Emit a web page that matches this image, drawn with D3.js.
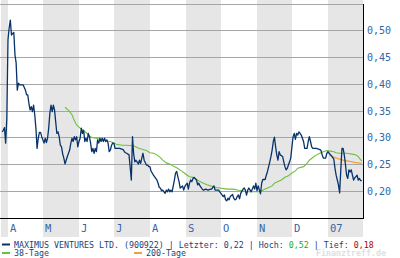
<!DOCTYPE html>
<html><head><meta charset="utf-8">
<script src="https://cdn.jsdelivr.net/npm/d3@7"></script>
<style>html,body{margin:0;padding:0;background:#fff;overflow:hidden}svg{display:block}</style>
</head><body>
<script>
// ---- data ----
const price = [
["2006-03-27",.311],["2006-03-28",.314],["2006-03-29",.319],["2006-03-30",.290],["2006-03-31",.336],
["2006-04-01",.483],["2006-04-02",.505],["2006-04-03",.520],["2006-04-04",.492],["2006-04-05",.495],["2006-04-06",.497],["2006-04-07",.455],["2006-04-08",.440],["2006-04-09",.389],["2006-04-10",.402],["2006-04-11",.399],["2006-04-14",.399],["2006-04-16",.389],["2006-04-17",.380],["2006-04-18",.380],["2006-04-19",.364],["2006-04-20",.352],["2006-04-21",.358],["2006-04-22",.349],["2006-04-23",.361],["2006-04-24",.343],["2006-04-25",.318],["2006-04-26",.280],["2006-04-27",.299],["2006-04-28",.310],["2006-04-29",.310],["2006-04-30",.302],
["2006-05-02",.290],["2006-05-03",.299],["2006-05-04",.291],["2006-05-05",.299],["2006-05-06",.318],["2006-05-07",.346],["2006-05-08",.361],["2006-05-09",.349],["2006-05-10",.361],["2006-05-11",.352],["2006-05-12",.330],["2006-05-13",.308],["2006-05-14",.311],["2006-05-15",.302],["2006-05-16",.286],["2006-05-17",.283],["2006-05-18",.270],["2006-05-19",.262],["2006-05-20",.251],["2006-05-21",.258],["2006-05-22",.265],["2006-05-24",.277],["2006-05-25",.290],["2006-05-26",.299],["2006-05-27",.293],["2006-05-28",.302],["2006-05-29",.296],["2006-05-30",.302],["2006-05-31",.283],
["2006-06-01",.293],["2006-06-02",.299],["2006-06-03",.318],["2006-06-04",.308],["2006-06-05",.314],["2006-06-06",.293],["2006-06-07",.299],["2006-06-08",.293],["2006-06-09",.308],["2006-06-10",.302],["2006-06-11",.290],["2006-06-12",.274],["2006-06-13",.280],["2006-06-14",.271],["2006-06-15",.280],["2006-06-16",.274],["2006-06-17",.296],["2006-06-18",.290],["2006-06-19",.299],["2006-06-20",.293],["2006-06-21",.299],["2006-06-22",.293],["2006-06-23",.299],["2006-06-24",.293],["2006-06-25",.296],["2006-06-26",.290],["2006-06-27",.274],["2006-06-28",.277],["2006-06-29",.286],["2006-06-30",.290],
["2006-07-01",.290],["2006-07-02",.280],["2006-07-03",.280],["2006-07-06",.280],["2006-07-09",.278],["2006-07-10",.274],["2006-07-11",.272],["2006-07-12",.271],["2006-07-14",.268],["2006-07-15",.245],["2006-07-16",.221],["2006-07-17",.302],["2006-07-18",.270],["2006-07-19",.255],["2006-07-20",.258],["2006-07-22",.251],["2006-07-23",.258],["2006-07-24",.252],["2006-07-25",.262],["2006-07-26",.271],["2006-07-27",.258],["2006-07-29",.249],["2006-07-30",.249],["2006-07-31",.246],
["2006-08-01",.246],["2006-08-02",.237],["2006-08-03",.234],["2006-08-04",.230],["2006-08-06",.224],["2006-08-07",.221],["2006-08-08",.215],["2006-08-09",.207],["2006-08-10",.206],["2006-08-11",.201],["2006-08-12",.202],["2006-08-14",.196],["2006-08-15",.202],["2006-08-16",.199],["2006-08-17",.204],["2006-08-18",.199],["2006-08-19",.202],["2006-08-20",.199],["2006-08-22",.221],["2006-08-23",.234],["2006-08-24",.237],["2006-08-25",.227],["2006-08-26",.218],["2006-08-27",.206],["2006-08-28",.208],["2006-08-29",.210],["2006-08-30",.202],["2006-08-31",.209],
["2006-09-02",.215],["2006-09-03",.204],["2006-09-04",.215],["2006-09-05",.221],["2006-09-06",.218],["2006-09-07",.224],["2006-09-08",.226],["2006-09-10",.221],["2006-09-11",.212],["2006-09-12",.215],["2006-09-13",.210],["2006-09-15",.204],["2006-09-16",.202],["2006-09-18",.204],["2006-09-20",.202],["2006-09-22",.204],["2006-09-23",.204],["2006-09-25",.210],["2006-09-26",.202],["2006-09-27",.202],["2006-09-29",.202],["2006-09-30",.199],
["2006-10-01",.196],["2006-10-03",.190],["2006-10-04",.193],["2006-10-05",.184],["2006-10-06",.182],["2006-10-07",.187],["2006-10-08",.184],["2006-10-09",.190],["2006-10-11",.194],["2006-10-12",.187],["2006-10-13",.184],["2006-10-14",.185],["2006-10-15",.190],["2006-10-16",.193],["2006-10-17",.186],["2006-10-18",.196],["2006-10-20",.204],["2006-10-21",.206],["2006-10-22",.202],["2006-10-23",.193],["2006-10-24",.202],["2006-10-25",.206],["2006-10-27",.199],["2006-10-28",.204],["2006-10-29",.210],["2006-10-30",.204],["2006-10-31",.215],
["2006-11-01",.201],["2006-11-02",.210],["2006-11-04",.195],["2006-11-05",.215],["2006-11-06",.222],["2006-11-08",.222],["2006-11-09",.230],["2006-11-10",.237],["2006-11-11",.246],["2006-11-12",.255],["2006-11-13",.265],["2006-11-14",.277],["2006-11-15",.293],["2006-11-16",.301],["2006-11-17",.283],["2006-11-18",.268],["2006-11-19",.258],["2006-11-20",.274],["2006-11-21",.268],["2006-11-23",.265],["2006-11-24",.255],["2006-11-25",.246],["2006-11-26",.240],["2006-11-27",.243],["2006-11-28",.249],["2006-11-29",.255],["2006-11-30",.262],
["2006-12-01",.283],["2006-12-02",.302],["2006-12-03",.308],["2006-12-04",.297],["2006-12-05",.308],["2006-12-06",.305],["2006-12-07",.311],["2006-12-08",.308],["2006-12-09",.305],["2006-12-10",.299],["2006-12-11",.293],["2006-12-12",.280],["2006-12-14",.280],["2006-12-15",.293],["2006-12-16",.302],["2006-12-17",.293],["2006-12-18",.283],["2006-12-19",.280],["2006-12-22",.280],["2006-12-25",.278],["2006-12-26",.276],["2006-12-27",.268],["2006-12-28",.262],["2006-12-30",.262],["2006-12-31",.271],
["2007-01-01",.274],["2007-01-02",.271],["2007-01-04",.266],["2007-01-06",.260],["2007-01-07",.243],["2007-01-08",.230],["2007-01-09",.221],["2007-01-10",.212],["2007-01-11",.197],["2007-01-12",.240],["2007-01-13",.280],["2007-01-14",.280],["2007-01-15",.268],["2007-01-16",.250],["2007-01-17",.230],["2007-01-18",.224],["2007-01-19",.240],["2007-01-20",.236],["2007-01-21",.240],["2007-01-22",.230],["2007-01-23",.221],["2007-01-24",.225],["2007-01-26",.230],["2007-01-27",.221],["2007-01-28",.224],["2007-01-29",.220],["2007-01-30",.220]
];
const ma38 = [
["2006-05-20",.357],["2006-05-23",.351],["2006-05-26",.343],["2006-05-28",.332],["2006-05-30",.324],["2006-06-02",.318],["2006-06-05",.313],["2006-06-08",.308],["2006-06-10",.303],["2006-06-13",.300],["2006-06-16",.299],["2006-06-19",.297],["2006-06-22",.296],["2006-06-25",.294],["2006-06-28",.293],["2006-06-30",.291],["2006-07-03",.288],["2006-07-08",.286],["2006-07-12",.286],["2006-07-18",.285],["2006-07-21",.282],["2006-07-23",.280],["2006-07-26",.278],["2006-07-29",.276],["2006-08-01",.272],["2006-08-04",.271],["2006-08-07",.268],["2006-08-10",.263],["2006-08-12",.258],["2006-08-15",.253],["2006-08-18",.251],["2006-08-21",.247],["2006-08-24",.244],["2006-08-28",.238],["2006-08-30",.235],["2006-09-02",.230],["2006-09-04",.227],["2006-09-07",.226],["2006-09-10",.222],["2006-09-13",.218],["2006-09-16",.215],["2006-09-19",.212],["2006-09-22",.210],["2006-09-24",.209],["2006-09-27",.207],["2006-09-30",.206],["2006-10-06",.204],["2006-10-12",.204],["2006-10-16",.202],["2006-10-19",.201],["2006-10-23",.199],["2006-10-29",.199],["2006-11-02",.199],["2006-11-05",.201],["2006-11-08",.204],["2006-11-11",.207],["2006-11-14",.210],["2006-11-16",.215],["2006-11-19",.218],["2006-11-22",.221],["2006-11-25",.226],["2006-11-28",.229],["2006-12-01",.234],["2006-12-04",.238],["2006-12-06",.243],["2006-12-11",.246],["2006-12-14",.252],["2006-12-16",.258],["2006-12-19",.263],["2006-12-22",.268],["2006-12-25",.271],["2006-12-28",.274],["2006-12-31",.276],["2007-01-03",.275],["2007-01-06",.274],["2007-01-08",.272],["2007-01-11",.271],["2007-01-17",.271],["2007-01-23",.269],["2007-01-26",.267],["2007-01-28",.262],["2007-01-30",.256]
];
const ma200 = [
["2007-01-02",.268],["2007-01-07",.263],["2007-01-11",.260],["2007-01-16",.257],["2007-01-20",.256],["2007-01-24",.254],["2007-01-30",.252]
];
const gridValues = [0.20,0.25,0.30,0.35,0.40,0.45,0.50,0.55];
const tickLabels = ["0,20","0,25","0,30","0,35","0,40","0,45","0,50"];
const monthLabels = ["A","M","J","J","A","S","O","N","D","07"];
const legendParts = [
  ["MAXIMUS VENTURES LTD. (900922) | Letzter: 0,22 | Hoch: ","#1b3f7a"],
  ["0,52","#12b021"],
  [" | Tief: ","#1b3f7a"],
  ["0,18","#b00000"]
];
const seriesNames = ["38-Tage","200-Tage"];

// ---- layout ----
const W = 400, H = 258;
const plotLeft = 0, plotRight = 363, plotTop = 4, plotBottom = 218;
const parse = d3.timeParse("%Y-%m-%d");
const x = d3.scaleTime().domain([parse("2006-03-26"), parse("2007-01-31")]).range([1, 362.9]);
const y = d3.scaleLinear().domain([0.15, 0.55]).range([plotBottom, plotTop]);
const crisp = v => Math.floor(v) + 0.5;

const svg = d3.select("body").append("svg").attr("width", W).attr("height", H);

// month bands (alternating, March shaded)
const months = d3.timeMonth.range(parse("2006-03-01"), parse("2007-02-01"));
svg.append("g").selectAll("rect").data(months.filter((m,i)=>i%2===0)).join("rect")
  .attr("x", d => Math.max(1, Math.round(x(d))))
  .attr("width", d => Math.min(plotRight, Math.round(x(d3.timeMonth.offset(d,1)))) - Math.max(1, Math.round(x(d))))
  .attr("y", 0).attr("height", 237)
  .attr("fill", "#e6e6e6");

// grid lines
svg.append("g").selectAll("line").data(gridValues).join("line")
  .attr("x1", plotLeft).attr("x2", plotRight)
  .attr("y1", d => crisp(y(d))).attr("y2", d => crisp(y(d)))
  .attr("stroke", "#a6a6a6").attr("stroke-width", 1);

// series
const line = d3.line().x(d => x(parse(d[0]))).y(d => y(d[1]));
svg.append("path").datum(ma38).attr("d", line).attr("fill","none").attr("stroke","#6cc13e").attr("stroke-width",1.1);
svg.append("path").datum(ma200).attr("d", line).attr("fill","none").attr("stroke","#f0a040").attr("stroke-width",1.3);
svg.append("path").datum(price).attr("d", line).attr("fill","none").attr("stroke","#07336a").attr("stroke-width",1.3).attr("stroke-linejoin","round");

// axes frame
svg.append("line").attr("x1", plotLeft).attr("x2", plotRight+1).attr("y1", crisp(y(0.15))).attr("y2", crisp(y(0.15))).attr("stroke","#000");
svg.append("line").attr("x1", plotRight+0.5).attr("x2", plotRight+0.5).attr("y1", crisp(y(0.55))-0.5).attr("y2", crisp(y(0.15))).attr("stroke","#000");

// y tick labels
svg.append("g").selectAll("text").data(tickLabels).join("text")
  .attr("x", plotRight + 4).attr("y", (d,i) => crisp(y(gridValues[i])) + 3.5)
  .attr("font-family","DejaVu Sans Mono, monospace").attr("font-size", 10)
  .attr("fill","#3466a3").text(d => d);

// month labels
const monthStarts = d3.timeMonth.range(parse("2006-04-01"), parse("2007-02-01"));
svg.append("g").selectAll("text").data(monthStarts).join("text")
  .attr("x", d => Math.round(x(d)) + 2).attr("y", 231.5)
  .attr("font-family","DejaVu Sans Mono, monospace").attr("font-size", 10.5)
  .attr("fill","#3466a3").text((d,i) => monthLabels[i]);

// legend
svg.append("line").attr("x1",2).attr("x2",10).attr("y1",244.5).attr("y2",244.5).attr("stroke","#07336a").attr("stroke-width",2);
const lt = svg.append("text").attr("x",14).attr("y",247.5)
  .attr("font-family","DejaVu Sans Mono, monospace").attr("font-size",8.3);
lt.selectAll("tspan").data(legendParts).join("tspan").attr("fill", d=>d[1]).attr("xml:space","preserve").text(d=>d[0]);
lt.style("white-space","pre");

svg.append("line").attr("x1",2).attr("x2",10).attr("y1",253).attr("y2",253).attr("stroke","#6cc13e").attr("stroke-width",2);
svg.append("text").attr("x",14).attr("y",256).attr("font-family","DejaVu Sans Mono, monospace").attr("font-size",8.3).attr("fill","#1b3f7a").text(seriesNames[0]);
svg.append("line").attr("x1",134).attr("x2",142).attr("y1",253).attr("y2",253).attr("stroke","#f0a040").attr("stroke-width",2);
svg.append("text").attr("x",146).attr("y",256).attr("font-family","DejaVu Sans Mono, monospace").attr("font-size",8.3).attr("fill","#1b3f7a").text(seriesNames[1]);

// watermark
svg.append("text").attr("x",316).attr("y",256).attr("font-family","DejaVu Sans Mono, monospace").attr("font-size",8.3)
  .attr("font-weight","bold").attr("fill","#e0e0e0").text("Finanztreff.de");
</script>
</body></html>
